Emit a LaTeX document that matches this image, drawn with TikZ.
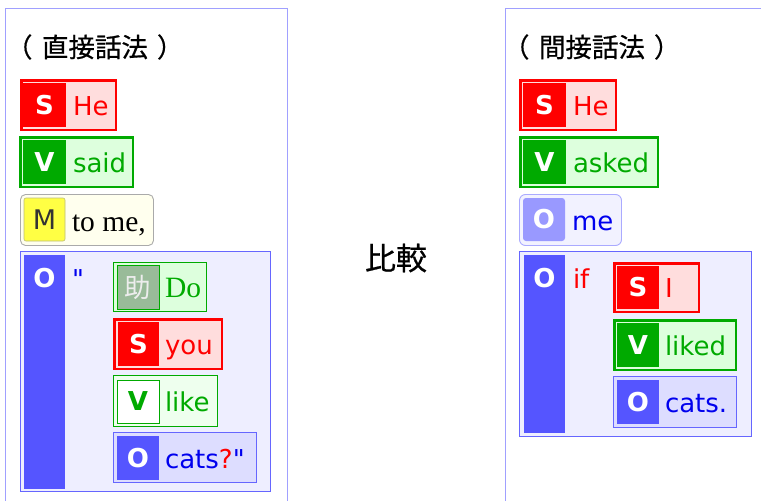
\documentclass[tikz,border=0pt]{standalone}
\usepackage{fontspec}
\setmainfont{DejaVu Sans}[Ligatures=TeXOff]
\newfontfamily\cjk{Noto Sans CJK JP}
\newfontfamily\cjkm{Noto Sans CJK JP}[FakeBold=0.6]
\newfontfamily\serifont{Liberation Serif}
\definecolor{panelc}{HTML}{A0A0FF}
\definecolor{sred}{HTML}{FF0000}
\definecolor{sredl}{HTML}{FFDDDD}
\definecolor{vgreen}{HTML}{00AA00}
\definecolor{vgreenl}{HTML}{DDFFDD}
\definecolor{vgreenll}{HTML}{EEFFEE}
\definecolor{myel}{HTML}{FFFF44}
\definecolor{myell}{HTML}{FFFFEE}
\definecolor{myelb}{HTML}{BBBB77}
\definecolor{mgray}{HTML}{AAAAAA}
\definecolor{oblue}{HTML}{5555FF}
\definecolor{oblueb}{HTML}{6666FF}
\definecolor{obluel}{HTML}{EEEEFF}
\definecolor{obluem}{HTML}{DDDDFF}
\definecolor{otext}{HTML}{0000EE}
\definecolor{omeb}{HTML}{AAAAFF}
\definecolor{omel}{HTML}{F2F2FF}
\definecolor{omein}{HTML}{9999FF}
\definecolor{auxin}{HTML}{99BB99}
\tikzset{
  every node/.style={inner sep=0pt, outer sep=0pt},
  panel/.style={draw=panelc, line width=1pt, anchor=north west},
  en/.style={font=\fontsize{26}{30}\selectfont, anchor=base west},
  srf/.style={font=\serifont\fontsize{29.5}{32}\selectfont, anchor=base west},
  lab/.style={font=\bfseries\fontsize{26}{30}\selectfont, text=white},
  sout/.style={draw=sred, line width=2.5pt, fill=sredl},
  sin/.style={fill=sred, lab},
  voutk/.style={draw=vgreen, line width=2.5pt, fill=vgreenl},
  voutt/.style={draw=vgreen, line width=0.9pt, fill=vgreenll},
  vin/.style={fill=vgreen, lab},
  mout/.style={draw=mgray, line width=0.9pt, fill=myell, rounded corners=5pt},
  min/.style={draw=myelb, line width=0.6pt, fill=myel, rounded corners=2pt, font=\fontsize{27}{30}\selectfont, text=black!80},
  obig/.style={draw=oblueb, line width=1pt, fill=obluel},
  oout/.style={draw=oblueb, line width=1pt, fill=obluem},
  oin/.style={fill=oblue, lab},
  meout/.style={draw=omeb, line width=0.9pt, fill=omel, rounded corners=6pt},
  mein/.style={fill=omein, lab, rounded corners=3pt},
  cjkt/.style={font=\cjkm\fontsize{26.5}{30}\selectfont},
}
\begin{document}
\begin{tikzpicture}[x=1pt,y=-1pt]
\useasboundingbox (0,0) rectangle (761,501);
\clip (0,0) rectangle (761,501);
\fill[white] (0,0) rectangle (761,501);

% panels
\node[panel, minimum width=282pt, minimum height=530pt] (lp) at (5.5,8.5) {};
\node[panel, minimum width=290pt, minimum height=530pt] (rp) at (505.5,8.5) {};

% titles
\node[cjkt, anchor=west] (lt) at (6,47) {（\hspace{9.5pt}直接話法\hspace{9pt}）};
\node[cjkt, anchor=west] (rt) at (503,47) {（\hspace{9.5pt}間接話法\hspace{9pt}）};
\node[font=\cjkm\fontsize{31}{33}\selectfont] (cmp) at (396,258) {比較};

% ---------- left ----------
\node[sout, minimum width=94.5pt, minimum height=49.5pt] (lS) at (68.5,105) {};
\node[sin, minimum width=43pt, minimum height=44pt] (lSl) at (44.5,105) {S};
\node[en, text=sred] (lSt) at (73,115) {He};

\node[voutk, minimum width=112.5pt, minimum height=49.5pt] (lV) at (76.5,162) {};
\node[vin, minimum width=43pt, minimum height=44pt] (lVl) at (44.5,162) {V};
\node[en, text=vgreen] (lVt) at (73,172) {said};

\node[mout, minimum width=133pt, minimum height=51pt] (lM) at (87,220) {};
\node[min, minimum width=41pt, minimum height=43pt] (lMl) at (44.5,219.5) {M};
\node[srf, text=black] (lMt) at (72,231) {to me,};

\node[obig, minimum width=250pt, minimum height=240pt] (lO) at (145.5,371.5) {};
\node[fill=oblue, minimum width=41pt, minimum height=234pt] (lOc) at (44.5,372) {};
\node[lab] (lOl) at (44.5,278) {O};
\node[en, text=otext] (lq) at (72,288) {"};

\node[voutt, fill=vgreenl, minimum width=93pt, minimum height=49pt] (aux) at (160,287) {};
\node[draw=vgreen, line width=0.8pt, fill=auxin, minimum width=42pt, minimum height=44pt, font=\cjk\fontsize{26.5}{30}\selectfont, text=white!93!black] (auxl) at (138,287) {助};
\node[srf, text=vgreen] (auxt) at (165,297) {Do};

\node[sout, minimum width=107.5pt, minimum height=49.5pt] (lS2) at (168,344) {};
\node[sin, minimum width=41pt, minimum height=44pt] (lS2l) at (138.5,344) {S};
\node[en, text=sred] (lS2t) at (165,354) {you};

\node[voutt, minimum width=104pt, minimum height=51pt] (lV2) at (165.5,401) {};
\node[draw=vgreen, line width=0.8pt, fill=white, lab, text=vgreen, minimum width=42pt, minimum height=43pt] (lV2l) at (138,401.5) {V};
\node[en, text=vgreen] (lV2t) at (165,411) {like};

\node[oout, minimum width=143pt, minimum height=50pt] (lO2) at (185,457.5) {};
\node[oin, minimum width=42pt, minimum height=44pt] (lO2l) at (138,458) {O};
\node[en, text=otext] (lO2t) at (165,468) {cats\textcolor{sred}{?}"};

% ---------- right ----------
\node[sout, minimum width=95.5pt, minimum height=49.5pt] (rS) at (568,105) {};
\node[sin, minimum width=43pt, minimum height=44pt] (rSl) at (544.5,105) {S};
\node[en, text=sred] (rSt) at (573,115) {He};

\node[voutk, minimum width=137.5pt, minimum height=49.5pt] (rV) at (589,162) {};
\node[vin, minimum width=43pt, minimum height=44pt] (rVl) at (544.5,162) {V};
\node[en, text=vgreen] (rVt) at (573,172) {asked};

\node[meout, minimum width=102pt, minimum height=51pt] (rO) at (570.5,220) {};
\node[mein, minimum width=42pt, minimum height=43pt] (rOl) at (544,219.5) {O};
\node[en, text=otext] (rOt) at (572,230) {me};

\node[obig, minimum width=232pt, minimum height=185pt] (rOB) at (635.5,344) {};
\node[fill=oblue, minimum width=41pt, minimum height=178pt] (rOBc) at (544.5,344) {};
\node[lab] (rOBl) at (544.5,278) {O};
\node[en, text=sred] (rif) at (573,288) {if};

\node[sout, minimum width=84.5pt, minimum height=48.5pt] (rS2) at (656.5,287.5) {};
\node[sin, minimum width=42pt, minimum height=43pt] (rS2l) at (638,287.5) {S};
\node[en, text=sred] (rS2t) at (665,297.5) {I};

\node[voutk, minimum width=121.5pt, minimum height=49.5pt] (rV2) at (675,345) {};
\node[vin, minimum width=42pt, minimum height=44pt] (rV2l) at (638,345) {V};
\node[en, text=vgreen] (rV2t) at (665,355) {liked};

\node[oout, minimum width=123pt, minimum height=51pt] (rO2) at (675,402) {};
\node[oin, minimum width=42pt, minimum height=44pt] (rO2l) at (638,402) {O};
\node[en, text=otext] (rO2t) at (665,412) {cats.};
\end{tikzpicture}
\end{document}
